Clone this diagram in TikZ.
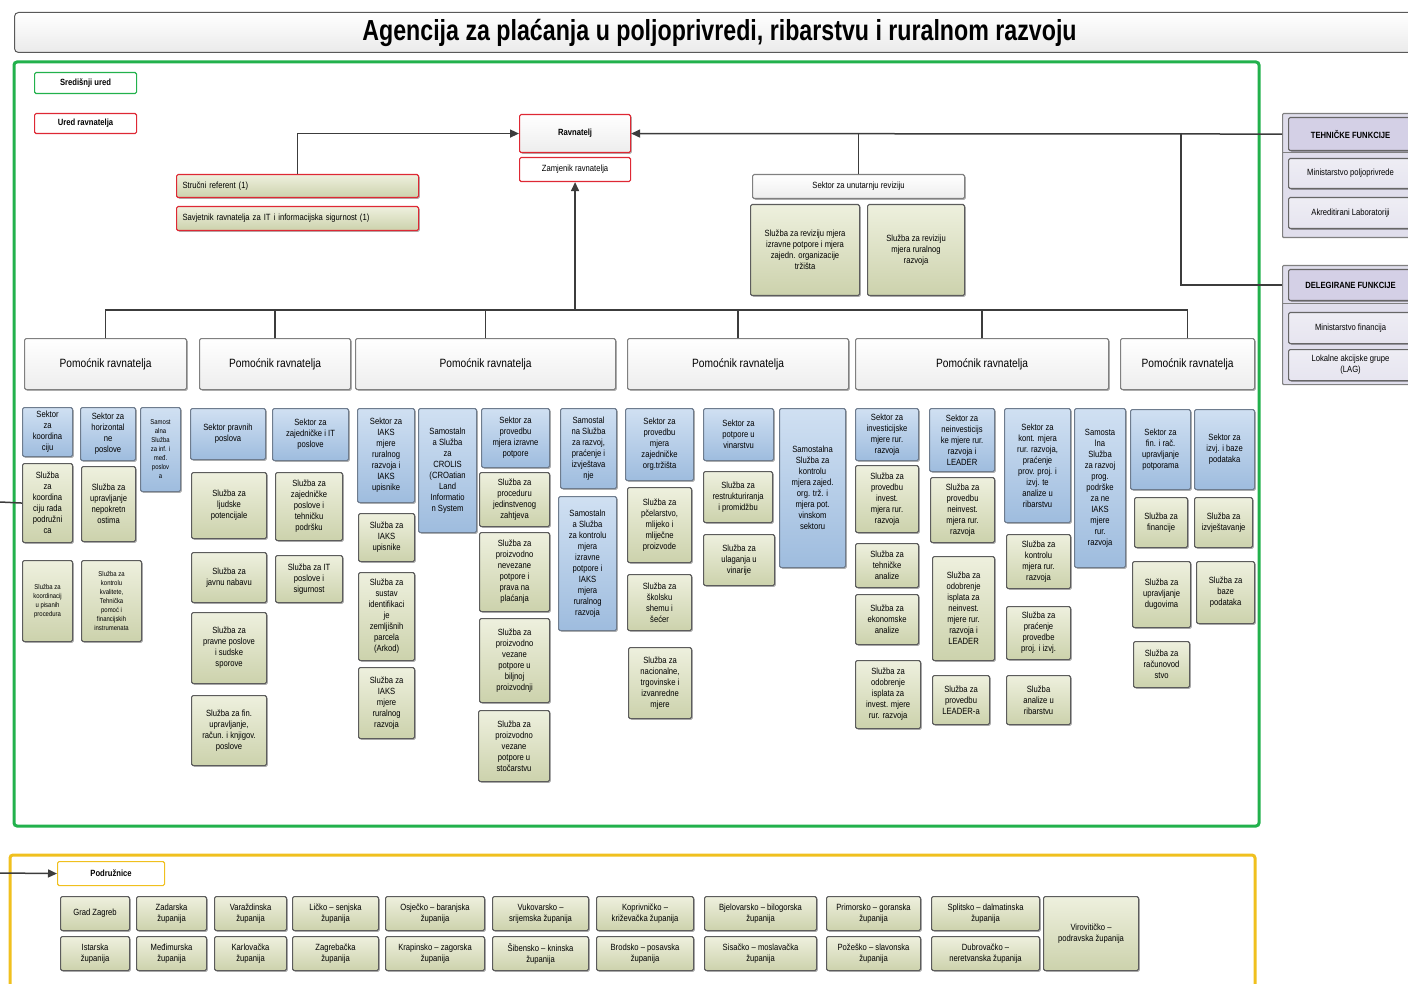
\documentclass[tikz,border=0pt]{standalone}
\usepackage{fontspec}
\setmainfont{Liberation Sans}[FakeStretch=0.85]
\newfontfamily\titlefont{Liberation Sans}[FakeStretch=0.8]
\usetikzlibrary{arrows.meta,shadows}
\definecolor{gfr}{RGB}{34,177,76}
\definecolor{yfr}{RGB}{240,192,30}
\definecolor{kt}{RGB}{238,240,222}
\definecolor{kb}{RGB}{204,210,172}
\definecolor{bt}{RGB}{208,224,242}
\definecolor{bb}{RGB}{158,188,222}
\definecolor{bd}{RGB}{92,92,92}
\definecolor{bbd}{RGB}{110,124,142}
\definecolor{rd}{RGB}{222,40,52}
\definecolor{ln}{RGB}{60,60,60}
\definecolor{pp}{RGB}{224,222,236}
\definecolor{ph}{RGB}{212,208,230}
\definecolor{pi}{RGB}{238,237,244}
\newcommand\bx[7]{\node[#2,anchor=north west,minimum width=#5pt-#3pt,minimum height=#6pt-#4pt] (#1) at (#3,#4) {#7};}
\tikzset{
  base/.style={draw=bd, line width=1.1pt, rounded corners=1.5pt, inner sep=1pt, align=center, font=\fontsize{9}{11}\selectfont},
  shd/.style={drop shadow={shadow xshift=1.3pt, shadow yshift=-1.3pt, opacity=0.3, fill=black}},
  sm/.style={font=\fontsize{7}{9}\selectfont},
  sl/.style={base, shd, top color=kt, bottom color=kb},
  se/.style={base, shd, top color=bt, bottom color=bb, draw=bbd},
  wb/.style={base, shd, top color=white, bottom color=gray!14, draw=gray},
  pom/.style={wb, font=\fontsize{12}{14}\selectfont},
  pan/.style={base, draw=gray, fill=pp, rounded corners=1pt},
  panh/.style={base, shd, draw=gray!80!black, fill=ph, font=\fontsize{9}{11}\selectfont\bfseries},
  pani/.style={base, shd, draw=gray!80!black, top color=pi, bottom color=pp!80},
  conn/.style={draw=ln, line width=1.5pt},
  arr/.style={conn, -{Triangle[length=9pt,width=8pt]}},
}
\begin{document}
\begin{tikzpicture}[x=1pt,y=-1pt]
\useasboundingbox (0,0) rectangle (1408,984);
% title
\node[anchor=north west, minimum width=1410pt, minimum height=40pt, draw=gray!70!black, line width=1pt, rounded corners=4pt, top color=white, bottom color=gray!16, inner sep=0pt, font=\titlefont\fontsize{29}{32}\selectfont\bfseries] (title) at (14,12) {Agencija za plaćanja u poljoprivredi, ribarstvu i ruralnom razvoju};
% frames
\draw[gfr, line width=3pt, rounded corners=3pt] (14,62) rectangle (1259,826);
\draw[yfr, line width=3pt, rounded corners=3pt] (10,855) rectangle (1255,996);
% legend
\bx{sred}{base, draw=gfr, fill=white, font=\fontsize{9}{11}\selectfont\bfseries}{34}{72}{136}{93}{Središnji ured}
\bx{ured}{base, draw=rd, fill=white, font=\fontsize{9}{11}\selectfont\bfseries}{34}{113}{136}{133}{Ured ravnatelja}
% top
\bx{rav}{base, shd, draw=rd, top color=white, bottom color=gray!14, font=\fontsize{9}{11}\selectfont\bfseries}{519}{114}{630}{152}{Ravnatelj}
\bx{zam}{base, draw=rd, fill=white}{519}{157}{630}{181}{Zamjenik ravnatelja}
\bx{sr}{sl, draw=rd, align=left, text width=230pt}{176}{174}{418}{197}{Stručni referent (1)}
\bx{sav}{sl, draw=rd, align=left, text width=230pt}{176}{206}{418}{230}{Savjetnik ravnatelja za IT i informacijska sigurnost (1)}
\bx{rev}{wb}{752}{174}{964}{198}{Sektor za unutarnju reviziju}
\bx{rv1}{sl}{750}{204}{859}{295}{Služba za reviziju mjera\\izravne potpore i mjera\\zajedn. organizacije\\tržišta}
\bx{rv2}{sl}{867}{204}{964}{295}{Služba za reviziju\\mjera ruralnog\\razvoja}
% right panels
\bx{tfp}{pan}{1282}{113}{1414}{237}{}
\draw[gray, line width=1pt] (1282,153) -- (1414,153);
\bx{tfh}{panh}{1288}{117}{1412}{150}{TEHNIČKE FUNKCIJE}
\bx{tf1}{pani}{1288}{158}{1412}{188}{Ministarstvo poljoprivrede}
\bx{tf2}{pani}{1288}{197}{1412}{228}{Akreditirani Laboratoriji}
\bx{dfp}{pan}{1282}{265}{1414}{384}{}
\draw[gray, line width=1pt] (1282,304) -- (1414,304);
\bx{dfh}{panh}{1288}{269}{1412}{300}{DELEGIRANE FUNKCIJE}
\bx{df1}{pani}{1288}{312}{1412}{343}{Ministarstvo financija}
\bx{df2}{pani}{1288}{349}{1412}{380}{Lokalne akcijske grupe\\(LAG)}
% assistants
\bx{p1}{pom}{24}{338}{186}{389}{Pomoćnik ravnatelja}
\bx{p2}{pom}{199}{338}{350}{389}{Pomoćnik ravnatelja}
\bx{p3}{pom}{355}{338}{615}{389}{Pomoćnik ravnatelja}
\bx{p4}{pom}{627}{338}{848}{389}{Pomoćnik ravnatelja}
\bx{p5}{pom}{855}{338}{1108}{389}{Pomoćnik ravnatelja}
\bx{p6}{pom}{1120}{338}{1254}{389}{Pomoćnik ravnatelja}
% group 1
\bx{a1}{se}{22}{407}{72}{456}{Sektor\\za\\koordina\\ciju}
\bx{a2}{se}{80}{407}{135}{460}{Sektor za\\horizontal\\ne\\poslove}
\bx{a3}{se, sm}{140}{407}{180}{491}{Samost\\alna\\Služba\\za inf. i\\međ.\\poslov\\a}
\bx{a4}{sl}{22}{463}{72}{542}{Služba\\za\\koordina\\ciju rada\\podružni\\ca}
\bx{a5}{sl}{81}{466}{135}{541}{Služba za\\upravljanje\\nepokretn\\ostima}
\bx{a6}{sl, sm}{22}{560}{72}{641}{Služba za\\koordinacij\\u pisanih\\procedura}
\bx{a7}{sl, sm}{81}{560}{141}{641}{Služba za\\kontrolu\\kvalitete,\\Tehnička\\pomoć i\\financijskih\\instrumenata}
% group 2
\bx{b1}{se}{190}{408}{265}{459}{Sektor pravnih\\poslova}
\bx{b2}{se}{272}{408}{348}{460}{Sektor za\\zajedničke i IT\\poslove}
\bx{b3}{sl}{191}{472}{266}{538}{Služba za\\ljudske\\potencijale}
\bx{b4}{sl}{275}{472}{342}{540}{Služba za\\zajedničke\\poslove i\\tehničku\\podršku}
\bx{b5}{sl}{191}{552}{266}{602}{Služba za\\javnu nabavu}
\bx{b6}{sl}{275}{555}{342}{602}{Služba za IT\\poslove i\\sigurnost}
\bx{b7}{sl}{191}{612}{266}{683}{Služba za\\pravne poslove\\i sudske\\sporove}
\bx{b8}{sl}{191}{695}{266}{765}{Služba za fin.\\upravljanje,\\račun. i knjigov.\\poslove}
% group 3
\bx{c1}{se}{357}{408}{414}{502}{Sektor za\\IAKS\\mjere\\ruralnog\\razvoja i\\IAKS\\upisnike}
\bx{c2}{se}{418}{408}{476}{532}{Samostaln\\a Služba\\za\\CROLIS\\(CROatian\\Land\\Informatio\\n System}
\bx{c3}{sl}{358}{513}{414}{561}{Služba za\\IAKS\\upisnike}
\bx{c4}{sl}{358}{572}{414}{660}{Služba za\\sustav\\identifikaci\\je\\zemljišnih\\parcela\\(Arkod)}
\bx{c5}{sl}{358}{667}{414}{738}{Služba za\\IAKS\\mjere\\ruralnog\\razvoja}
\bx{c6}{se}{481}{408}{549}{467}{Sektor za\\provedbu\\mjera izravne\\potpore}
\bx{c7}{sl}{479}{472}{549}{526}{Služba za\\proceduru\\jedinstvenog\\zahtjeva}
\bx{c8}{sl}{479}{532}{549}{611}{Služba za\\proizvodno\\nevezane\\potpore i\\prava na\\plaćanja}
\bx{c9}{sl}{479}{618}{549}{702}{Služba za\\proizvodno\\vezane\\potpore u\\biljnoj\\proizvodnji}
\bx{c10}{sl}{478}{710}{549}{781}{Služba za\\proizvodno\\vezane\\potpore u\\stočarstvu}
\bx{c11}{se}{560}{408}{616}{488}{Samostal\\na Služba\\za razvoj,\\praćenje i\\izvještava\\nje}
\bx{c12}{se}{558}{496}{616}{630}{Samostaln\\a Služba\\za kontrolu\\mjera\\izravne\\potpore i\\IAKS\\mjera\\ruralnog\\razvoja}
% group 4
\bx{d1}{se}{625}{408}{693}{480}{Sektor za\\provedbu\\mjera\\zajedničke\\org.tržišta}
\bx{d2}{sl}{627}{487}{691}{562}{Služba za\\pčelarstvo,\\mlijeko i\\mliječne\\proizvode}
\bx{d3}{sl}{627}{574}{691}{630}{Služba za\\školsku\\shemu i\\šećer}
\bx{d4}{sl}{628}{647}{691}{718}{Služba za\\nacionalne,\\trgovinske i\\izvanredne\\mjere}
\bx{d5}{se}{703}{408}{773}{460}{Sektor za\\potpore u\\vinarstvu}
\bx{d6}{sl}{703}{471}{772}{522}{Služba za\\restrukturiranja\\i promidžbu}
\bx{d7}{sl}{703}{534}{774}{585}{Služba za\\ulaganja u\\vinarije}
\bx{d8}{se}{779}{408}{845}{567}{Samostalna\\Služba za\\kontrolu\\mjera zajed.\\org. trž. i\\mjera pot.\\vinskom\\sektoru}
% group 5
\bx{e1}{se}{855}{408}{918}{460}{Sektor za\\investicijske\\mjere rur.\\razvoja}
\bx{e2}{sl}{855}{465}{918}{532}{Služba za\\provedbu\\invest.\\mjera rur.\\razvoja}
\bx{e3}{sl}{855}{543}{918}{587}{Služba za\\tehničke\\analize}
\bx{e4}{sl}{855}{594}{918}{644}{Služba za\\ekonomske\\analize}
\bx{e5}{sl}{855}{660}{920}{728}{Služba za\\odobrenje\\isplata za\\invest. mjere\\rur. razvoja}
\bx{e6}{se}{929}{408}{994}{471}{Sektor za\\neinvesticijs\\ke mjere rur.\\razvoja i\\LEADER}
\bx{e7}{sl}{930}{477}{994}{542}{Služba za\\provedbu\\neinvest.\\mjera rur.\\razvoja}
\bx{e8}{sl}{932}{556}{994}{660}{Služba za\\odobrenje\\isplata za\\neinvest.\\mjere rur.\\razvoja i\\LEADER}
\bx{e9}{sl}{932}{675}{989}{724}{Služba za\\provedbu\\LEADER-a}
\bx{e10}{se}{1004}{408}{1070}{522}{Sektor za\\kont. mjera\\rur. razvoja,\\praćenje\\prov. proj. i\\izvj. te\\analize u\\ribarstvu}
\bx{e11}{sl}{1006}{534}{1070}{588}{Služba za\\kontrolu\\mjera rur.\\razvoja}
\bx{e12}{sl}{1006}{606}{1070}{659}{Služba za\\praćenje\\provedbe\\proj. i izvj.}
\bx{e13}{sl}{1006}{675}{1070}{724}{Služba\\analize u\\ribarstvu}
\bx{e14}{se}{1074}{408}{1125}{567}{Samosta\\lna\\Služba\\za razvoj\\prog.\\podrške\\za ne\\IAKS\\mjere\\rur.\\razvoja}
% group 6
\bx{f1}{se}{1130}{409}{1190}{489}{Sektor za\\fin. i rač.\\upravljanje\\potporama}
\bx{f2}{se}{1194}{409}{1254}{489}{Sektor za\\izvj. i baze\\podataka}
\bx{f3}{sl}{1134}{497}{1187}{547}{Služba za\\financije}
\bx{f4}{sl}{1194}{497}{1252}{547}{Služba za\\izvještavanje}
\bx{f5}{sl}{1132}{561}{1190}{627}{Služba za\\upravljanje\\dugovima}
\bx{f6}{sl}{1196}{561}{1254}{623}{Služba za\\baze\\podataka}
\bx{f7}{sl}{1133}{641}{1189}{687}{Služba za\\računovod\\stvo}
% branches
\bx{pod}{base, draw=yfr, fill=white, font=\fontsize{9}{11}\selectfont\bfseries}{57}{861}{164}{885}{Podružnice}
\bx{z1}{sl}{60}{896}{129}{930}{Grad Zagreb}
\bx{z2}{sl}{136}{896}{206}{930}{Zadarska\\županija}
\bx{z3}{sl}{214}{896}{286}{930}{Varaždinska\\županija}
\bx{z4}{sl}{292}{896}{378}{930}{Ličko – senjska\\županija}
\bx{z5}{sl}{385}{896}{484}{930}{Osječko – baranjska\\županija}
\bx{z6}{sl}{492}{896}{588}{930}{Vukovarsko –\\srijemska županija}
\bx{z7}{sl}{596}{896}{693}{930}{Koprivničko –\\križevačka županija}
\bx{z8}{sl}{704}{896}{816}{930}{Bjelovarsko – bilogorska\\županija}
\bx{z9}{sl}{826}{896}{920}{930}{Primorsko – goranska\\županija}
\bx{z10}{sl}{931}{896}{1039}{930}{Splitsko – dalmatinska\\županija}
\bx{y1}{sl}{60}{936}{129}{970}{Istarska\\županija}
\bx{y2}{sl}{136}{936}{206}{970}{Međimurska\\županija}
\bx{y3}{sl}{214}{936}{286}{970}{Karlovačka\\županija}
\bx{y4}{sl}{292}{936}{378}{970}{Zagrebačka\\županija}
\bx{y5}{sl}{385}{936}{484}{970}{Krapinsko – zagorska\\županija}
\bx{y6}{sl}{492}{936}{588}{970}{Šibensko – kninska\\županija}
\bx{y7}{sl}{596}{936}{693}{970}{Brodsko – posavska\\županija}
\bx{y8}{sl}{704}{936}{816}{970}{Sisačko – moslavačka\\županija}
\bx{y9}{sl}{826}{936}{920}{970}{Požeško – slavonska\\županija}
\bx{y10}{sl}{931}{936}{1039}{970}{Dubrovačko –\\neretvanska županija}
\bx{vir}{sl}{1043}{896}{1138}{970}{Virovitičko –\\podravska županija}
% connectors
\coordinate (bus) at (575,310);
\coordinate (j1) at (1181,133);
\coordinate (lt) at (0,502);
\coordinate (lb) at (0,873);
\draw[arr] (tfh.west -| tfp.west) -- (rav.east);
\draw[conn] (j1) |- (dfh.west -| dfp.west);
\draw[conn] (rev.north) -- (rev.north |- rav.east);
\draw[arr] (sr.north) |- (rav.west);
\draw[conn] (p1.north) -- (p1.north |- bus) -- (p6.north |- bus) -- (p6.north);
\foreach \p in {p2,p3,p4,p5} \draw[conn] (\p.north) -- (\p.north |- bus);
\draw[arr] (zam.south |- bus) -- (zam.south);
\draw[conn] (lt) -- (a4.west);
\draw[arr] (lb) -- (pod.west);
\end{tikzpicture}
\end{document}
